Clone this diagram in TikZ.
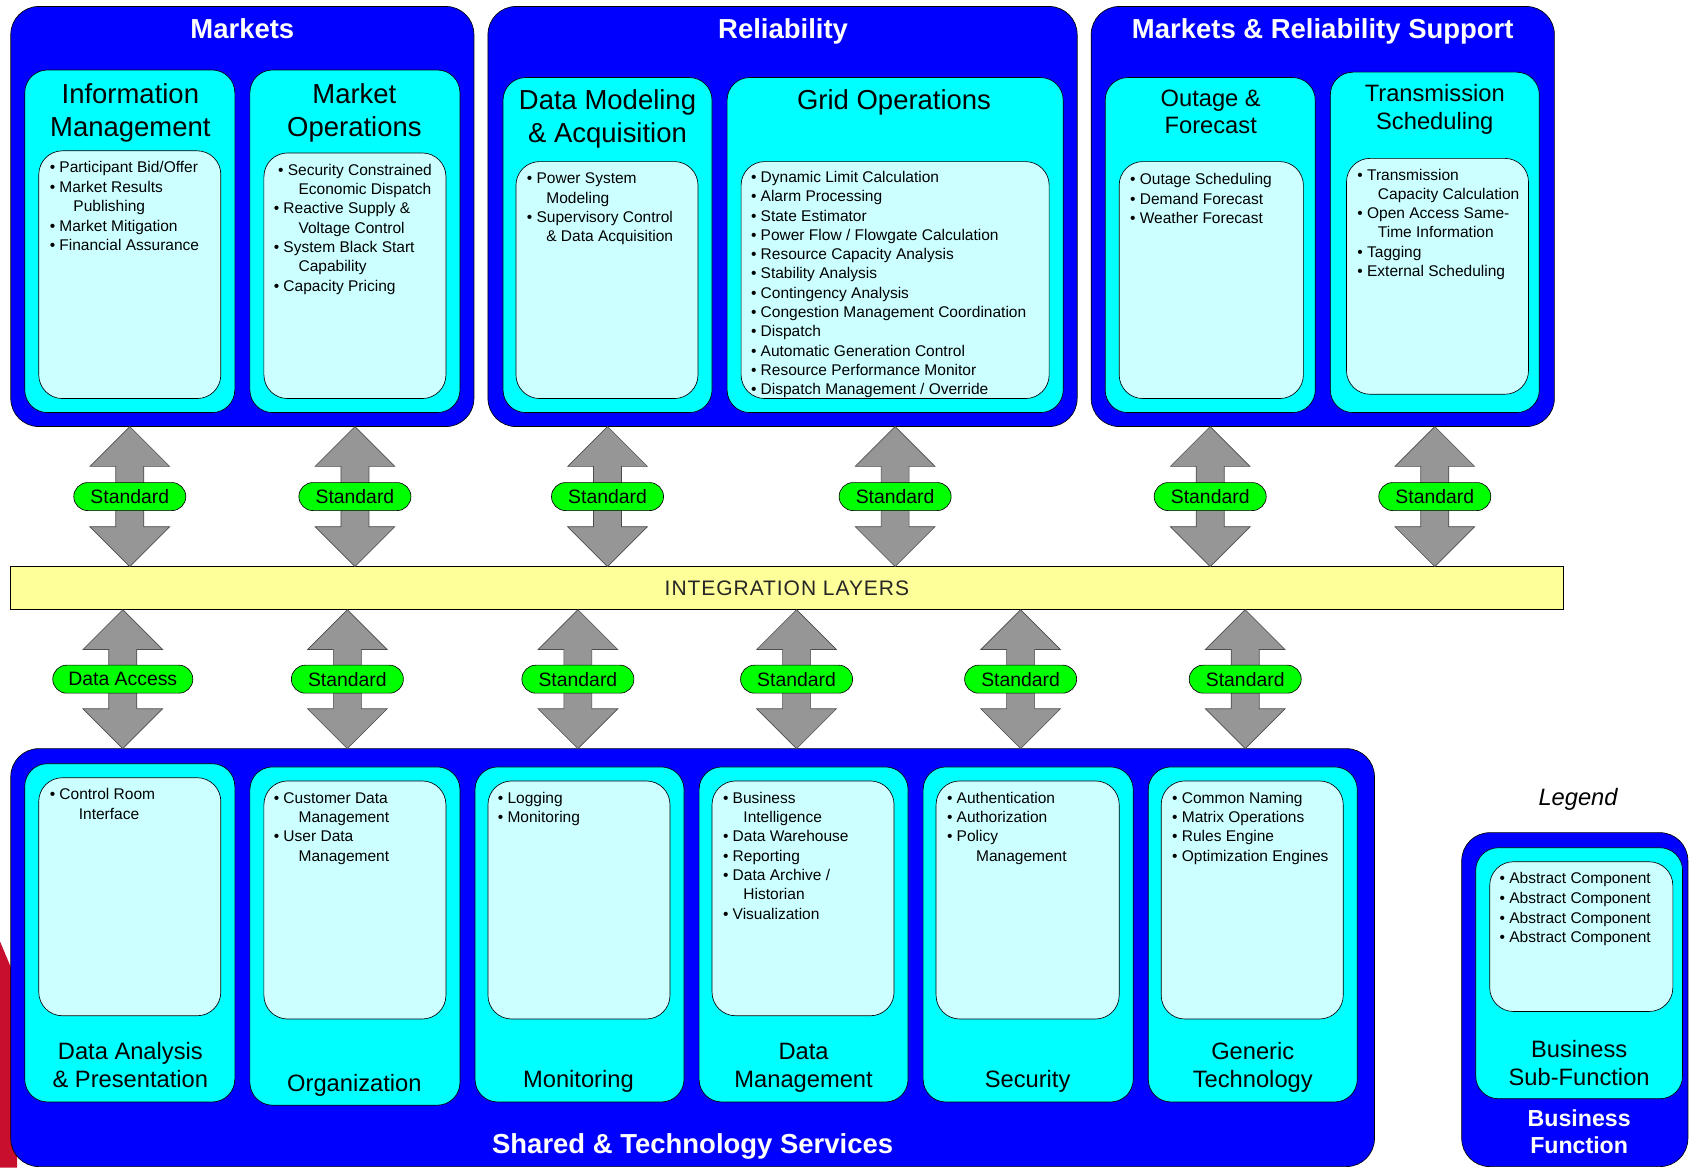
\documentclass[tikz,border=0pt]{standalone}
\usepackage{fontspec}
\setmainfont{Liberation Sans}
\usetikzlibrary{calc}

\definecolor{fnblue}{HTML}{0000FF}
\definecolor{subcyan}{HTML}{00FFFF}
\definecolor{itemcyan}{HTML}{CCFFFF}
\definecolor{pillgreen}{HTML}{00FF00}
\definecolor{layeryellow}{HTML}{FFFF99}
\definecolor{arrowgray}{HTML}{969696}
\definecolor{edgered}{HTML}{C8102E}

% bullet and hanging indent for component lists
\newcommand\bu{\makebox[9pt][l]{\textbullet}}
\newcommand\hang[1]{\hspace*{\dimexpr 9pt+#1pt\relax}}
\newcommand\lines[1]{\begin{tabular}[t]{@{}l@{}}#1\end{tabular}}
\newcommand\clines[1]{\begin{tabular}[t]{@{}c@{}}#1\end{tabular}}

% rounded panel given by its two corners
\newcommand\panel[6]{\node[#1, minimum width={#5-#3}, minimum height={#6-#4}] (#2) at ({(#3+#5)/2},{(#4+#6)/2}) {};}

% fat double-headed arrow between two tip points
\newcommand\fatarrow[2]{%
  \draw[fatarrow] (#1) -- ($(#1)+(37,37)$) -- ($(#1)+(13,37)$) -- ($(#2)+(13,-37)$)
    -- ($(#2)+(37,-37)$) -- (#2) -- ($(#2)+(-37,-37)$) -- ($(#2)+(-13,-37)$)
    -- ($(#1)+(-13,37)$) -- ($(#1)+(-37,37)$) -- cycle;}

\tikzset{
  fnbox/.style={rectangle, rounded corners=26pt, fill=fnblue, draw=black, line width=0.6pt, inner sep=0pt, outer sep=0pt},
  subbox/.style={rectangle, rounded corners=21pt, fill=subcyan, draw=black, line width=0.6pt, inner sep=0pt, outer sep=0pt},
  itembox/.style={rectangle, rounded corners=22pt, fill=itemcyan, draw=black, line width=0.6pt, inner sep=0pt, outer sep=0pt},
  fntitle/.style={text=white, font=\fontsize{25.5}{30}\selectfont\bfseries, anchor=base, inner sep=0pt},
  subtitle/.style={font=\fontsize{25.5}{30.5}\selectfont, anchor=base, inner sep=0pt},
  sublabel/.style={font=\fontsize{22}{26}\selectfont, anchor=base, inner sep=0pt},
  itemlist/.style={font=\fontsize{14.4}{18}\selectfont, anchor=base west, inner sep=0pt},
  layerbar/.style={rectangle, fill=layeryellow, draw=black, line width=0.6pt, inner sep=0pt, outer sep=0pt,
    text=black!85, font=\fontsize{19.5}{20}\selectfont\addfontfeature{LetterSpace=4.5}},
  pill/.style={rectangle, rounded corners=13pt, fill=pillgreen, draw=black, line width=0.6pt,
    minimum width=104pt, minimum height=26pt, inner sep=0pt, font=\fontsize{18}{20}\selectfont},
  fatarrow/.style={fill=arrowgray, draw=black!70, line width=0.6pt, line join=miter},
}

\begin{document}
\begin{tikzpicture}[x=1pt, y=-1pt]
\useasboundingbox (0,0) rectangle (1568,1084);

% red backdrop peeking out at the left edge
\fill[edgered] (0,874) -- (16,912) -- (16,1084) -- (0,1084) -- cycle;

% ---------- business functions ----------
\panel{fnbox}{markets}{10}{6}{440}{396}
\panel{fnbox}{reliab}{453}{6}{1000}{396}
\panel{fnbox}{support}{1013}{6}{1443}{396}
\panel{fnbox}{shared}{10}{695}{1276}{1083}
\panel{fnbox}{legfn}{1357}{773}{1567}{1083}

% ---------- sub-functions ----------
\panel{subbox}{infomgmt}{23}{65}{218}{383}
\panel{subbox}{mktops}{232}{65}{427}{383}
\panel{subbox}{datamod}{467}{72}{661}{383}
\panel{subbox}{gridops}{675}{72}{987}{383}
\panel{subbox}{outage}{1026}{72}{1221}{383}
\panel{subbox}{transched}{1235}{67}{1429}{383}

\panel{subbox}{dataan}{23}{709}{218}{1023}
\panel{subbox}{organiz}{232}{712}{427}{1026}
\panel{subbox}{monit}{441}{712}{635}{1023}
\panel{subbox}{datamgmt}{649}{712}{843}{1023}
\panel{subbox}{secur}{857}{712}{1052}{1023}
\panel{subbox}{generic}{1066}{712}{1260}{1023}
\panel{subbox}{legsub}{1370}{787}{1562}{1020}

% ---------- component lists ----------
\panel{itembox}{infomgmt-in}{36}{140}{205}{370}
\panel{itembox}{mktops-in}{245}{142}{414}{370}
\panel{itembox}{datamod-in}{479}{150}{648}{370}
\panel{itembox}{gridops-in}{688}{150}{974}{370}
\panel{itembox}{outage-in}{1039}{150}{1210}{370}
\panel{itembox}{transched-in}{1250}{147}{1419}{366}

\panel{itembox}{dataan-in}{36}{722}{205}{943}
\panel{itembox}{organiz-in}{245}{725}{414}{946}
\panel{itembox}{monit-in}{453}{725}{622}{946}
\panel{itembox}{datamgmt-in}{661}{725}{830}{943}
\panel{itembox}{secur-in}{869}{725}{1039}{946}
\panel{itembox}{generic-in}{1078}{725}{1247}{946}
\panel{itembox}{legsub-in}{1383}{800}{1553}{939}

% ---------- titles ----------
\node[fntitle] (t-markets) at (225,36) {Markets};
\node[fntitle] (t-reliab) at (727,36) {Reliability};
\node[fntitle] (t-support) at (1228,36) {Markets \& Reliability Support};
\node[fntitle] (t-shared) at (643,1071) {Shared \& Technology Services};

\node[subtitle] (t-infomgmt) at (121,96) {\clines{Information\\Management}};
\node[subtitle] (t-mktops) at (329,96) {\clines{Market\\Operations}};
\node[subtitle] (t-datamod) at (564,102) {\clines{Data Modeling\\\& Acquisition}};
\node[subtitle] (t-gridops) at (830,102) {Grid Operations};
\node[sublabel, font=\fontsize{22}{25}\selectfont] (t-outage) at (1124,99) {\clines{Outage \&\\Forecast}};
\node[sublabel] (t-transched) at (1332,94) {\clines{Transmission\\Scheduling}};

\node[sublabel] (t-dataan) at (121,984) {\clines{Data Analysis\\\& Presentation}};
\node[sublabel] (t-organiz) at (329,1013) {Organization};
\node[sublabel] (t-monit) at (537,1010) {Monitoring};
\node[sublabel] (t-datamgmt) at (746,984) {\clines{Data\\Management}};
\node[sublabel] (t-secur) at (954,1010) {Security};
\node[sublabel] (t-generic) at (1163,984) {\clines{Generic\\Technology}};

\node[sublabel] (t-legsub) at (1466,982) {\clines{Business\\Sub-Function}};
\node[fntitle, font=\fontsize{21.5}{25}\selectfont\bfseries] (t-legfn) at (1466,1046) {\clines{Business\\Function}};
\node[sublabel, font=\fontsize{22}{26}\selectfont\itshape] (t-legend) at (1465,748) {Legend};

% ---------- component items ----------
\node[itemlist] (l-infomgmt) at (46,160.5) {\lines{\bu Participant Bid/Offer\\ \bu Market Results\\ \hang{13}Publishing\\ \bu Market Mitigation\\ \bu Financial Assurance}};
\node[itemlist] (l-mktops) at (254,162.5) {\lines{\hspace*{4pt}\bu Security Constrained\\ \hang{14}Economic Dispatch\\ \bu Reactive Supply \&\\ \hang{14}Voltage Control\\ \bu System Black Start\\ \hang{14}Capability\\ \bu Capacity Pricing}};
\node[itemlist] (l-datamod) at (489,170.5) {\lines{\bu Power System\\ \hang{9}Modeling\\ \bu Supervisory Control\\ \hang{9}\& Data Acquisition}};
\node[itemlist, font=\fontsize{14.4}{17.9}\selectfont] (l-gridops) at (697,169.5) {\lines{\bu Dynamic Limit Calculation\\ \bu Alarm Processing\\ \bu State Estimator\\ \bu Power Flow / Flowgate Calculation\\ \bu Resource Capacity Analysis\\ \bu Stability Analysis\\ \bu Contingency Analysis\\ \bu Congestion Management Coordination\\ \bu Dispatch\\ \bu Automatic Generation Control\\ \bu Resource Performance Monitor\\ \bu Dispatch Management / Override}};
\node[itemlist] (l-outage) at (1049,171.5) {\lines{\bu Outage Scheduling\\ \bu Demand Forecast\\ \bu Weather Forecast}};
\node[itemlist, font=\fontsize{14.4}{17.8}\selectfont] (l-transched) at (1260,167.5) {\lines{\bu Transmission\\ \hang{10}Capacity Calculation\\ \bu Open Access Same-\\ \hang{10}Time Information\\ \bu Tagging\\ \bu External Scheduling}};

\node[itemlist] (l-dataan) at (46,742.5) {\lines{\bu Control Room\\ \hang{18}Interface}};
\node[itemlist] (l-organiz) at (254,745.5) {\lines{\bu Customer Data\\ \hang{14}Management\\ \bu User Data\\ \hang{14}Management}};
\node[itemlist] (l-monit) at (462,745.5) {\lines{\bu Logging\\ \bu Monitoring}};
\node[itemlist] (l-datamgmt) at (671,745.5) {\lines{\bu Business\\ \hang{10}Intelligence\\ \bu Data Warehouse\\ \bu Reporting\\ \bu Data Archive /\\ \hang{10}Historian\\ \bu Visualization}};
\node[itemlist] (l-secur) at (879,745.5) {\lines{\bu Authentication\\ \bu Authorization\\ \bu Policy\\ \hang{18}Management}};
\node[itemlist] (l-generic) at (1088,745.5) {\lines{\bu Common Naming\\ \bu Matrix Operations\\ \bu Rules Engine\\ \bu Optimization Engines}};
\node[itemlist, font=\fontsize{14.4}{18.3}\selectfont] (l-legsub) at (1392,820.5) {\lines{\bu Abstract Component\\ \bu Abstract Component\\ \bu Abstract Component\\ \bu Abstract Component}};

% ---------- integration layer ----------
\panel{layerbar}{layer}{10}{526}{1451}{566}
\node[layerbar, draw=none, fill=none, anchor=center] (t-layer) at (730.5,546) {INTEGRATION LAYERS};

% ---------- interfaces above the layer ----------
\foreach \name/\xx/\fn in {u1/120.5/markets, u2/329.5/markets, u3/564/reliab, u4/831/reliab, u5/1123.5/support, u6/1332/support}{
  \coordinate (\name-x) at (\xx,0);
  \coordinate (\name-top) at (\name-x |- \fn.south);
  \coordinate (\name-bot) at (\name-x |- layer.north);
  \fatarrow{\name-top}{\name-bot}
  \node[pill] (\name-std) at ($(\name-top)!0.5!(\name-bot)$) {Standard};
}

% ---------- interfaces below the layer ----------
\foreach \name/\xx/\lbl/\pillw in {d1/114/Data Access/130, d2/322.5/Standard/104, d3/536.5/Standard/104, d4/739.5/Standard/104, d5/947.5/Standard/104, d6/1156/Standard/104}{
  \coordinate (\name-x) at (\xx,0);
  \coordinate (\name-top) at (\name-x |- layer.south);
  \coordinate (\name-bot) at (\name-x |- shared.north);
  \fatarrow{\name-top}{\name-bot}
  \node[pill, minimum width=\pillw] (\name-std) at ($(\name-top)!0.5!(\name-bot)$) {\lbl};
}

\end{tikzpicture}
\end{document}
